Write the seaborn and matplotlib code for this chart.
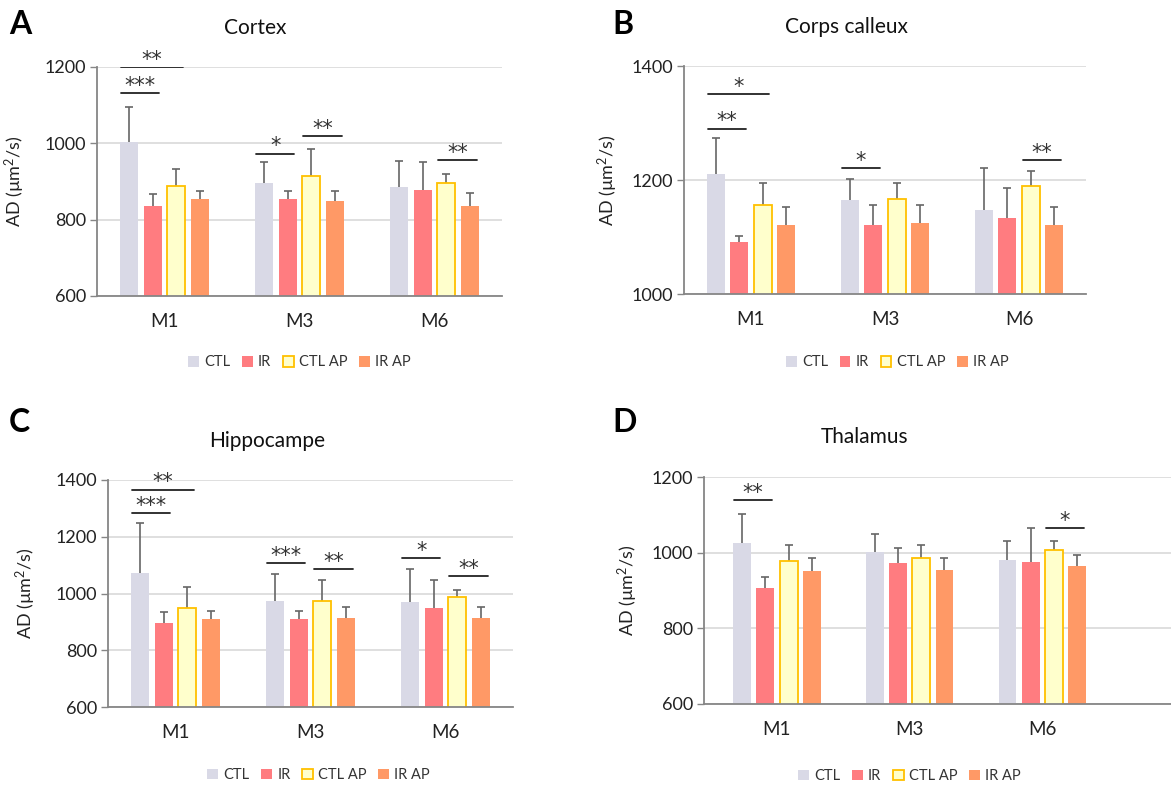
import pandas as pd
import matplotlib
matplotlib.use('Agg')
import matplotlib.pyplot as plt
from matplotlib.patches import Patch
import seaborn as sns

# categories
months = ['M1', 'M3', 'M6']
groups = ['CTL', 'IR', 'CTL AP', 'IR AP']

# means per group (rows) and month (columns)
cortex_mean = [[1003, 897, 886], [837, 853, 878], [888, 914, 896], [853, 849, 837]]
cortex_sd = [[92, 54, 69], [30, 21, 73], [45, 70, 23], [21, 25, 34]]

corps_mean = [[1211, 1165, 1148], [1091, 1121, 1133], [1157, 1167, 1189], [1121, 1125, 1121]]
corps_sd = [[62, 36, 73], [10, 36, 53], [37, 27, 27], [31, 32, 31]]

hippo_mean = [[1073, 974, 970], [896, 911, 950], [948, 973, 987], [911, 914, 914]]
hippo_sd = [[176, 93, 116], [39, 28, 97], [74, 74, 25], [28, 39, 39]]

thal_mean = [[1025, 1001, 981], [907, 974, 976], [979, 987, 1008], [951, 955, 966]]
thal_sd = [[76, 48, 50], [28, 39, 89], [41, 33, 23], [36, 32, 29]]

# significance: (month, bar i, bar j, y level, stars)
cortex_sig = [(0, 0, 1, 1131, '***'), (0, 0, 2, 1200, '**'), (1, 0, 1, 973, '*'),
              (1, 2, 3, 1018, '**'), (2, 2, 3, 957, '**')]
corps_sig = [(0, 0, 1, 1290, '**'), (0, 0, 2, 1351, '*'), (1, 0, 1, 1221, '*'),
             (2, 2, 3, 1235, '**')]
hippo_sig = [(0, 0, 1, 1283, '***'), (0, 0, 2, 1366, '**'), (1, 0, 1, 1107, '***'),
             (1, 2, 3, 1086, '**'), (2, 0, 1, 1126, '*'), (2, 2, 3, 1062, '**')]
thal_sig = [(0, 0, 1, 1138, '**'), (2, 2, 3, 1065, '*')]

sns.set_theme(style='white')
plt.rcParams['font.family'] = ['Lato', 'DejaVu Sans']
plt.rcParams['mathtext.fontset'] = 'custom'
plt.rcParams['mathtext.rm'] = 'Lato'
plt.rcParams['mathtext.it'] = 'Lato'

palette = {'CTL': '#D9D9E6', 'IR': '#FF7C80', 'CTL AP': '#FFFFCC', 'IR AP': '#FF9966'}
axis_grey = '#868686'


def draw_panel(ax, means, sds, sig, ylim, yticks, letter, title, title_xy, letter_xy,
               ylab_x, leg_anchor, xlim=(-0.5, 2.5)):
    rows = []
    for g, vals in zip(groups, means):
        for m, v in zip(months, vals):
            rows.append({'month': m, 'group': g, 'AD': v})
    df = pd.DataFrame(rows)

    sns.barplot(data=df, x='month', y='AD', hue='group', hue_order=groups, order=months,
                palette=palette, width=0.7, gap=0.23, errorbar=None, legend=False,
                linewidth=0, saturation=1, ax=ax)

    bar_conts = list(ax.containers)
    centers = []
    for k, cont in enumerate(bar_conts):
        for bar in cont.patches:
            bar.set_zorder(2)
            if groups[k] == 'CTL AP':
                bar.set_edgecolor('#FFC000')
                bar.set_linewidth(1.3)
        xs = [b.get_x() + b.get_width() / 2 for b in cont.patches]
        centers.append(xs)
        ax.errorbar(xs, means[k], yerr=sds[k], fmt='none', ecolor='#666666',
                    elinewidth=1.2, capsize=3, capthick=1.2, zorder=1.5)

    # significance bars
    for m, i, j, y, stars in sig:
        x0 = centers[i][m] - 0.06
        x1 = centers[j][m] + 0.05
        ax.plot([x0, x1], [y, y], color='#222222', lw=1.3, zorder=4)
        ax.annotate(stars, ((x0 + x1) / 2, y), xytext=(0, -2), textcoords='offset points',
                    ha='center', va='bottom', fontsize=15, family='DejaVu Sans',
                    color='#333333', zorder=4)

    ax.set_ylim(*ylim)
    ax.set_yticks(yticks)
    ax.set_xlim(*xlim)
    ax.set_axisbelow(True)
    ax.yaxis.grid(True, color='#D9D9D9', lw=1.2)
    sns.despine(ax=ax)
    for s in ['left', 'bottom']:
        ax.spines[s].set_color(axis_grey)
        ax.spines[s].set_linewidth(1.3)
    ax.tick_params(axis='y', left=True, length=5, width=1, color=axis_grey,
                   labelsize=13, pad=3, labelcolor='#222222')
    ax.tick_params(axis='x', length=0, labelsize=13.5, pad=12, labelcolor='#222222')
    ax.set_xlabel('')
    ax.set_ylabel('AD (µm$^2$/s)', fontsize=13, color='#222222')
    ax.yaxis.set_label_coords(ylab_x, 0.5)

    handles = [Patch(facecolor=palette[g],
                     edgecolor='#FFC000' if g == 'CTL AP' else palette[g],
                     linewidth=1.3 if g == 'CTL AP' else 0, label=g) for g in groups]
    ax.legend(handles=handles, loc='center', bbox_to_anchor=leg_anchor, ncol=4,
              frameon=False, fontsize=10.5, handlelength=0.75, handleheight=0.75,
              handletextpad=0.35, columnspacing=0.8, labelcolor='#333333')

    fig.text(title_xy[0], title_xy[1], title, ha='center', va='center', fontsize=15,
             color='#111111')
    fig.text(letter_xy[0], letter_xy[1], letter, ha='left', va='center', fontsize=23,
             fontweight='bold', color='black')


W, H = 1171, 787
fig = plt.figure(figsize=(W / 100, H / 100), dpi=100)


def box(left, top, right, bottom):
    return [left / W, 1 - bottom / H, (right - left) / W, (bottom - top) / H]


ax_a = fig.add_axes(box(97, 67, 502, 296))
ax_b = fig.add_axes(box(684, 66, 1086, 294))
ax_c = fig.add_axes(box(108, 480, 513, 707))
ax_d = fig.add_axes(box(704, 477, 1171, 704))

draw_panel(ax_a, cortex_mean, cortex_sd, cortex_sig, (600, 1200), [600, 800, 1000, 1200],
           'A', 'Cortex', (255 / W, 1 - 28 / H), (9 / W, 1 - 25 / H), -0.173, (0.5, -0.29))
draw_panel(ax_b, corps_mean, corps_sd, corps_sig, (1000, 1400), [1000, 1200, 1400],
           'B', 'Corps calleux', (846 / W, 1 - 27 / H), (612 / W, 1 - 25 / H), -0.159,
           (0.53, -0.30))
draw_panel(ax_c, hippo_mean, hippo_sd, hippo_sig, (600, 1400), [600, 800, 1000, 1200, 1400],
           'C', 'Hippocampe', (267 / W, 1 - 441 / H), (9 / W, 1 - 422 / H), -0.173,
           (0.52, -0.30))
draw_panel(ax_d, thal_mean, thal_sd, thal_sig, (600, 1200), [600, 800, 1000, 1200],
           'D', 'Thalamus', (865 / W, 1 - 437 / H), (612 / W, 1 - 423 / H), -0.137,
           (0.44, -0.317), xlim=(-0.55, 2.97))

fig.savefig('out.png', dpi=100, facecolor='white')
